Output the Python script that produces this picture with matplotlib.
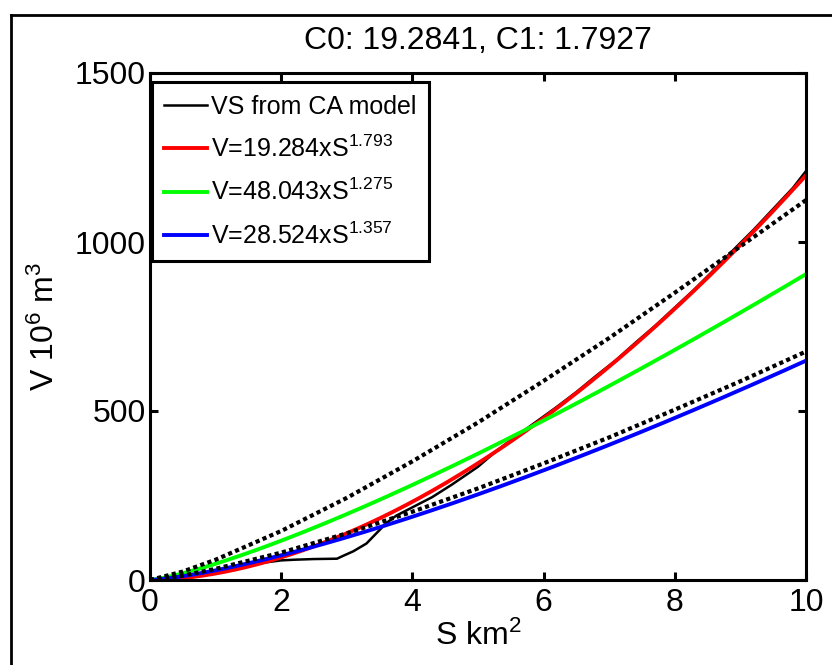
import matplotlib
matplotlib.use("Agg")
import matplotlib.pyplot as plt
from matplotlib.lines import Line2D
import numpy as np

plt.rcParams["font.family"] = ["Liberation Sans", "DejaVu Sans"]
plt.rcParams["mathtext.default"] = "regular"

# fitted power laws V = C0 * S^C1
fit_red = (19.284, 1.793)
fit_green = (48.043, 1.275)
fit_blue = (28.524, 1.357)

# volume-area curve from the CA model
model_area = [0, 0.3, 0.6, 1.0, 1.4, 1.8, 2.0, 2.2, 2.5, 2.85, 2.95, 3.1, 3.3,
              3.45, 3.6, 3.75, 3.9, 4.1, 4.3, 4.6, 5.0, 5.3, 5.6, 5.9, 6.2,
              6.5, 6.8, 7.1, 7.4, 7.7, 8.0, 8.3, 8.6, 8.9, 9.2, 9.5, 9.8, 10.0]
model_volume = [0, 2, 8, 22, 40, 53, 58, 60, 62, 63, 72, 85, 108,
                138, 168, 190, 205, 225, 245, 282, 335, 385, 428, 470, 512,
                556, 604, 650, 702, 752, 806, 860, 918, 978, 1036, 1098, 1160, 1210]

# upper / lower bounds
bound_area = [0, 0.5, 1, 2, 3, 4, 5, 6, 7, 8, 9, 10]
bound_upper = [0, 25, 60, 145, 243, 351, 466, 589, 716, 850, 987, 1124]
bound_lower = [0, 13, 33, 81, 138, 202, 271, 345, 422, 504, 588, 676]

x_ticks = [0, 2, 4, 6, 8, 10]
y_ticks = [0, 500, 1000, 1500]

fig = plt.figure(figsize=(8.32, 6.65), dpi=100)
ax = fig.add_axes([150 / 832, 85 / 665, 656 / 832, 507 / 665])

s = np.linspace(0, 10, 300)

ax.plot(model_area, model_volume, color="black", lw=1.8,
        label="VS from CA model")
ax.plot(s, fit_red[0] * s ** fit_red[1], color=(1, 0, 0), lw=2.8,
        label=f"V={fit_red[0]:.3f}xS$^{{{fit_red[1]:.3f}}}$")
ax.plot(s, fit_green[0] * s ** fit_green[1], color=(0, 1, 0), lw=2.8,
        label=f"V={fit_green[0]:.3f}xS$^{{{fit_green[1]:.3f}}}$")
ax.plot(s, fit_blue[0] * s ** fit_blue[1], color=(0, 0, 1), lw=2.8,
        label=f"V={fit_blue[0]:.3f}xS$^{{{fit_blue[1]:.3f}}}$")

dots = (0, (1.0, 0.8))
ax.plot(bound_area, bound_upper, color="black", lw=3, linestyle=dots)
ax.plot(bound_area, bound_lower, color="black", lw=3, linestyle=dots)

ax.set_xlim(0, 10)
ax.set_ylim(0, 1500)
ax.set_xticks(x_ticks)
ax.set_yticks(y_ticks)
ax.tick_params(direction="in", length=6, width=2.2, labelsize=23,
               top=True, right=True)
ax.tick_params(axis="x", pad=6)
ax.tick_params(axis="y", pad=3)
for sp in ax.spines.values():
    sp.set_linewidth(2.2)

ax.set_xlabel("S km$^2$", fontsize=23, labelpad=2)
ax.set_ylabel("V 10$^6$ m$^3$", fontsize=23, labelpad=10)
ax.set_title("C0: 19.2841, C1: 1.7927", fontsize=23, pad=17)

leg = ax.legend(loc="upper left", bbox_to_anchor=(0.003, 0.982),
                borderaxespad=0, fontsize=18, handlelength=1.7,
                handletextpad=0.15, borderpad=0.5, labelspacing=0.68,
                fancybox=False, framealpha=1, edgecolor="black")
leg.get_frame().set_linewidth(2.2)

# figure border
fig.add_artist(Line2D([11 / 832, 1], [1 - 15 / 665] * 2,
                      transform=fig.transFigure, color="black", lw=2))
fig.add_artist(Line2D([11 / 832] * 2, [0, 1 - 15 / 665],
                      transform=fig.transFigure, color="black", lw=2))

fig.savefig("out.png", dpi=100)
